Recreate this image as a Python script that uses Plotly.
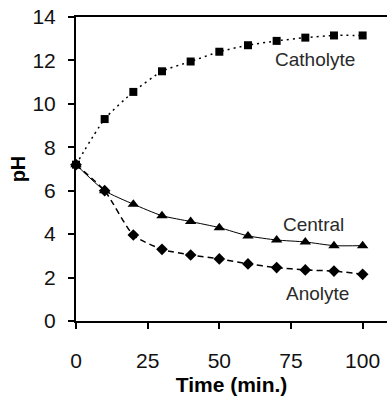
import plotly.graph_objects as go

time_min = [0, 10, 20, 30, 40, 50, 60, 70, 80, 90, 100]
catholyte = [7.2, 9.3, 10.55, 11.5, 11.95, 12.4, 12.7, 12.9, 13.05, 13.15, 13.15]
central = [7.2, 6.0, 5.38, 4.85, 4.58, 4.3, 3.92, 3.73, 3.64, 3.47, 3.47]
anolyte = [7.2, 6.0, 3.96, 3.3, 3.04, 2.86, 2.63, 2.46, 2.35, 2.3, 2.15]

x_ticks = [0, 25, 50, 75, 100]
y_ticks = [0, 2, 4, 6, 8, 10, 12, 14]

labels = ["Catholyte", "Central", "Anolyte"]
label_x = [83.4, 82.9, 84.1]
label_y = [12.06, 4.44, 1.28]

FONT = "Liberation Sans, Arial, sans-serif"

fig = go.Figure()
fig.add_trace(go.Scatter(
    x=time_min, y=catholyte, mode="lines+markers", name="Catholyte",
    line=dict(color="black", width=1.5, dash="2px,4px", shape="spline", smoothing=0.6),
    marker=dict(symbol="square", size=8, color="black"), cliponaxis=False))
fig.add_trace(go.Scatter(
    x=time_min, y=central, mode="lines+markers", name="Central",
    line=dict(color="black", width=1, shape="spline", smoothing=0.6),
    marker=dict(symbol="triangle-up", size=10, color="black"), cliponaxis=False))
fig.add_trace(go.Scatter(
    x=time_min, y=anolyte, mode="lines+markers", name="Anolyte",
    line=dict(color="black", width=1.5, dash="6px,4px", shape="spline", smoothing=0.6),
    marker=dict(symbol="diamond", size=9, color="black"), cliponaxis=False))

for t, lx, ly in zip(labels, label_x, label_y):
    fig.add_annotation(x=lx, y=ly, text=t, showarrow=False,
                       font=dict(family=FONT, size=19, color="#2a2a2a"))

fig.update_layout(
    width=387, height=396,
    margin=dict(l=76, r=0, t=17, b=75),
    paper_bgcolor="white", plot_bgcolor="white",
    showlegend=False,
    font=dict(family=FONT, color="black"),
)
fig.update_xaxes(
    range=[0, 108.5], tickvals=x_ticks, ticktext=[str(v) for v in x_ticks],
    showgrid=False, zeroline=False, showline=True, linecolor="black", linewidth=2,
    mirror=True, ticks="outside", ticklen=6, tickwidth=1.5, tickcolor="black",
    tickfont=dict(size=21, family=FONT, color="#111"), ticklabelstandoff=14,
    title=dict(text="<b>Time (min.)</b>", font=dict(size=21, family=FONT), standoff=6),
)
fig.update_yaxes(
    range=[0, 14], tickvals=y_ticks, ticktext=[str(v) for v in y_ticks],
    showgrid=False, zeroline=False, showline=True, linecolor="black", linewidth=2,
    ticks="outside", ticklen=6, tickwidth=1.5, tickcolor="black",
    tickfont=dict(size=21, family=FONT, color="#111"), ticklabelstandoff=8,
    title=dict(text="<b>pH</b>", font=dict(size=20, family=FONT), standoff=1),
)

fig.write_html("out.html")
